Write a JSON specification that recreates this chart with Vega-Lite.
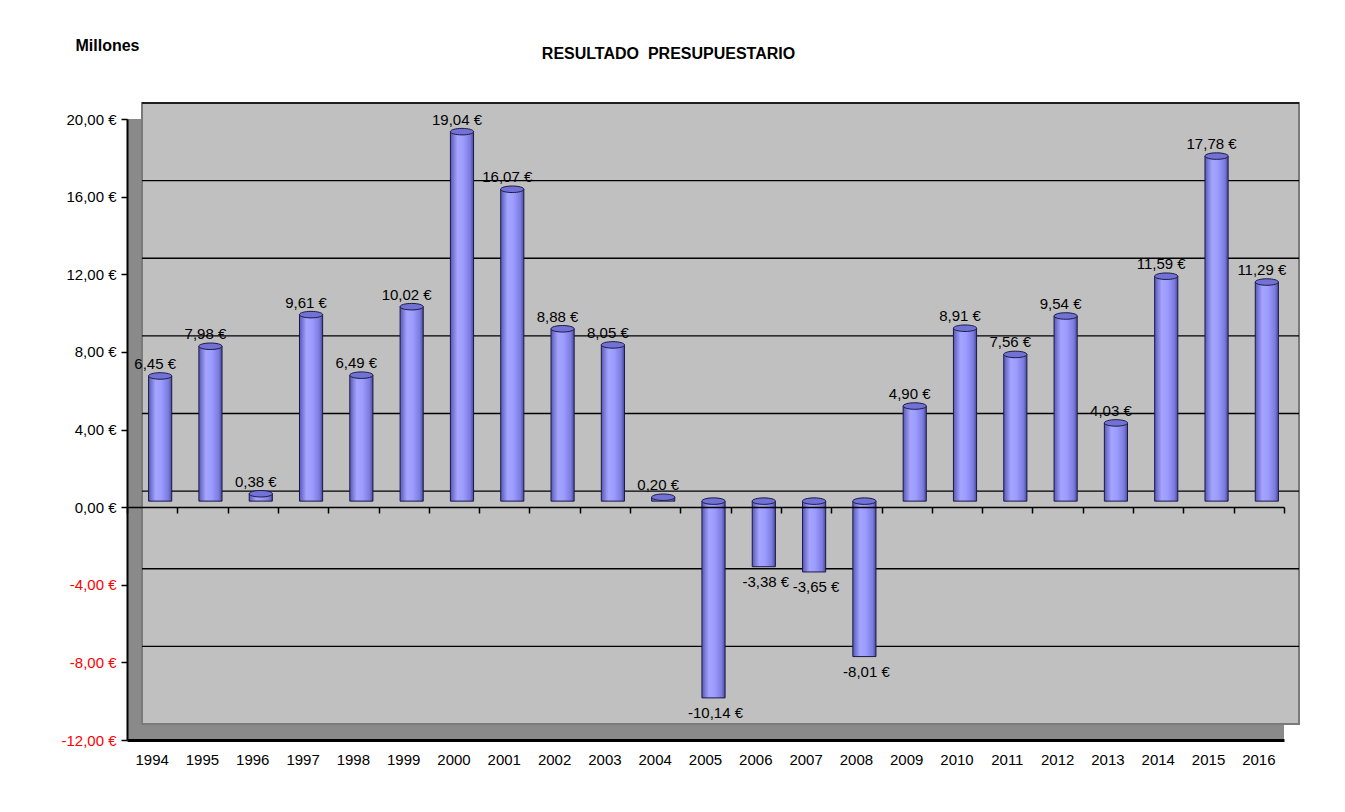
{
  "$schema": "https://vega.github.io/schema/vega-lite/v6.json",
  "width": 1157,
  "height": 621,
  "autosize": {"type": "none"},
  "padding": {"left": 127, "top": 119, "right": 61, "bottom": 72},
  "background": "white",
  "config": {
    "view": {"fill": "#8A8A8A", "stroke": null},
    "font": "Liberation Sans",
    "axis": {"labelFont": "Liberation Sans", "titleFont": "Liberation Sans"}
  },
  "title": {
    "text": "RESULTADO\u00a0\u00a0PRESUPUESTARIO",
    "anchor": "middle",
    "frame": "group",
    "dx": -37,
    "offset": -25,
    "fontSize": 16,
    "fontWeight": "bold",
    "font": "Liberation Sans",
    "color": "black"
  },
  "datasets": {
    "bars": [
      {"year": "1994", "v": 6.45},
      {"year": "1995", "v": 7.98},
      {"year": "1996", "v": 0.38},
      {"year": "1997", "v": 9.61},
      {"year": "1998", "v": 6.49},
      {"year": "1999", "v": 10.02},
      {"year": "2000", "v": 19.04},
      {"year": "2001", "v": 16.07},
      {"year": "2002", "v": 8.88},
      {"year": "2003", "v": 8.05},
      {"year": "2004", "v": 0.20},
      {"year": "2005", "v": -10.14},
      {"year": "2006", "v": -3.38},
      {"year": "2007", "v": -3.65},
      {"year": "2008", "v": -8.01},
      {"year": "2009", "v": 4.90},
      {"year": "2010", "v": 8.91},
      {"year": "2011", "v": 7.56},
      {"year": "2012", "v": 9.54},
      {"year": "2013", "v": 4.03},
      {"year": "2014", "v": 11.59},
      {"year": "2015", "v": 17.78},
      {"year": "2016", "v": 11.29}
    ],
    "grid": [
      {"g": 20}, {"g": 16}, {"g": 12}, {"g": 8}, {"g": 4}, {"g": 0}, {"g": -4}, {"g": -8}
    ]
  },
  "layer": [
    {
      "data": {"values": [{"top": 20, "bottom": -12}]},
      "mark": {"type": "rect", "fill": "#C0C0C0", "stroke": "#7A7A7A", "strokeWidth": 2, "xOffset": 15, "x2Offset": 15, "yOffset": -16, "y2Offset": -16},
      "encoding": {
        "x": {"value": 0},
        "x2": {"value": "width"},
        "y": {
          "field": "top", "type": "quantitative",
          "scale": {"domain": [-12, 20], "nice": false, "zero": false},
          "axis": {
            "values": [-12, -8, -4, 0, 4, 8, 12, 16, 20],
            "labelExpr": "(datum.value < 0 ? '-' : '') + replace(format(abs(datum.value), '.2f'), '.', ',') + ' €'",
            "labelFontSize": 15,
            "labelColor": {"condition": {"test": "datum.value < 0", "value": "#FF0000"}, "value": "black"},
            "labelPadding": 5,
            "tickSize": 6,
            "tickColor": "black",
            "tickWidth": 1.5,
            "domainColor": "black",
            "domainWidth": 2,
            "grid": false,
            "zindex": 1,
            "title": "Millones",
            "titleAngle": 0,
            "titleX": -52,
            "titleY": -69,
            "titleAlign": "left",
            "titleBaseline": "alphabetic",
            "titleFontSize": 16,
            "titleFontWeight": "bold",
            "titleColor": "black"
          }
        },
        "y2": {"field": "bottom"}
      }
    },
    {
      "data": {"name": "grid"},
      "mark": {"type": "rule", "color": "black", "strokeWidth": 1.3, "xOffset": 15, "x2Offset": 15, "yOffset": -16},
      "encoding": {
        "x": {"value": 0},
        "x2": {"value": "width"},
        "y": {"field": "g", "type": "quantitative"}
      }
    },
    {
      "data": {"name": "bars"},
      "mark": {
        "type": "bar",
        "width": {"band": 0.46},
        "xOffset": 8,
        "x2Offset": 8,
        "yOffset": -6,
        "y2Offset": -6,
        "stroke": "#1A1A40",
        "strokeWidth": 1,
        "fill": {
          "gradient": "linear",
          "x1": 0, "x2": 1, "y1": 0, "y2": 0,
          "stops": [
            {"offset": 0, "color": "#5858B8"},
            {"offset": 0.3, "color": "#A4A4FF"},
            {"offset": 0.55, "color": "#9C9CFF"},
            {"offset": 0.85, "color": "#7C7CE0"},
            {"offset": 1, "color": "#4A4A9A"}
          ]
        }
      },
      "encoding": {
        "x": {
          "field": "year", "type": "ordinal",
          "scale": {"paddingInner": 0, "paddingOuter": 0},
          "axis": {
            "orient": "bottom",
            "title": null,
            "labelAngle": 0,
            "labelFontSize": 15,
            "labelColor": "black",
            "labelPadding": 12,
            "ticks": false,
            "domainColor": "black",
            "domainWidth": 3,
            "grid": false,
            "zindex": 1
          }
        },
        "y": {"field": "v", "type": "quantitative"},
        "y2": {"datum": 0}
      }
    },
    {
      "data": {"name": "bars"},
      "transform": [{"filter": "datum.v >= 0"}],
      "mark": {
        "type": "point",
        "shape": "M-1,0A1,0.28,0,1,1,1,0A1,0.28,0,1,1,-1,0Z",
        "size": 540,
        "filled": true,
        "fill": "#7272D6",
        "stroke": "#1A1A40",
        "strokeWidth": 1,
        "opacity": 1,
        "xOffset": 8,
        "yOffset": -6
      },
      "encoding": {
        "x": {"field": "year", "type": "ordinal", "axis": null},
        "y": {"field": "v", "type": "quantitative"}
      }
    },
    {
      "data": {"name": "bars"},
      "transform": [{"filter": "datum.v < 0"}],
      "mark": {
        "type": "point",
        "shape": "M-1,0A1,0.28,0,1,1,1,0A1,0.28,0,1,1,-1,0Z",
        "size": 540,
        "filled": true,
        "fill": "#7272D6",
        "stroke": "#1A1A40",
        "strokeWidth": 1,
        "opacity": 1,
        "xOffset": 8,
        "yOffset": -6
      },
      "encoding": {
        "x": {"field": "year", "type": "ordinal", "axis": null},
        "y": {"datum": 0}
      }
    },
    {
      "data": {"name": "bars"},
      "mark": {"type": "rule", "opacity": 0},
      "encoding": {
        "x": {
          "field": "year", "type": "ordinal",
          "axis": {
            "orient": "bottom",
            "offset": -233,
            "labels": false,
            "title": null,
            "ticks": true,
            "tickBand": "extent",
            "tickSize": 6,
            "tickColor": "black",
            "tickWidth": 1.5,
            "domainColor": "black",
            "domainWidth": 1.5,
            "grid": false,
            "zindex": 1
          }
        },
        "y": {"datum": 0}
      }
    },
    {
      "data": {"name": "bars"},
      "transform": [
        {"filter": "datum.v >= 0"},
        {"calculate": "replace(format(datum.v, '.2f'), '.', ',') + ' €'", "as": "lab"}
      ],
      "mark": {"type": "text", "baseline": "bottom", "dy": -10, "dx": 3, "fontSize": 15, "color": "black", "font": "Liberation Sans"},
      "encoding": {
        "x": {"field": "year", "type": "ordinal", "axis": null},
        "y": {"field": "v", "type": "quantitative"},
        "text": {"field": "lab"}
      }
    },
    {
      "data": {"name": "bars"},
      "transform": [
        {"filter": "datum.v < 0"},
        {"calculate": "'-' + replace(format(abs(datum.v), '.2f'), '.', ',') + ' €'", "as": "lab"}
      ],
      "mark": {"type": "text", "baseline": "top", "dy": 2, "dx": 10, "fontSize": 15, "color": "black", "font": "Liberation Sans"},
      "encoding": {
        "x": {"field": "year", "type": "ordinal", "axis": null},
        "y": {"field": "v", "type": "quantitative"},
        "text": {"field": "lab"}
      }
    }
  ],
  "resolve": {"axis": {"x": "independent"}}
}
